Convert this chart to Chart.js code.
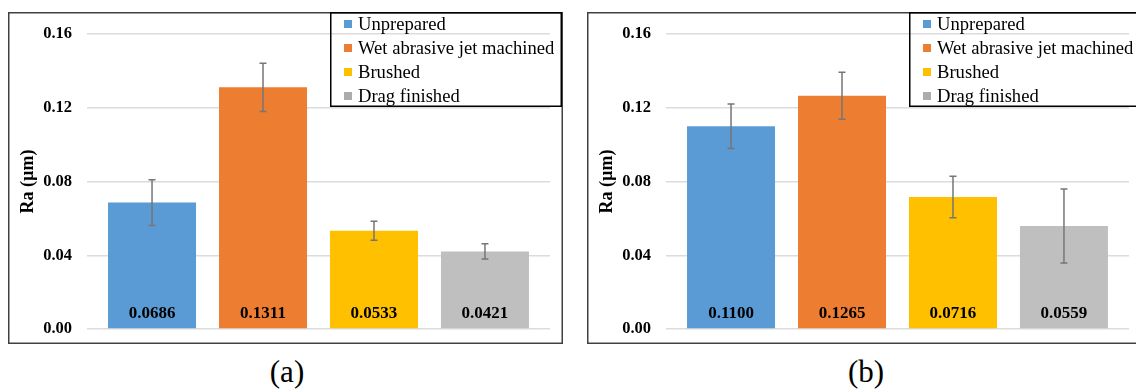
<!DOCTYPE html>
<html>
<head>
<meta charset="utf-8">
<script src="https://cdn.jsdelivr.net/npm/chart.js@4"></script>
<style>
  html, body { margin: 0; padding: 0; background: #fff; }
  body { width: 1136px; height: 390px; position: relative; overflow: hidden; }
  .panel { position: absolute; top: 12px; width: 555px; height: 332px; }
  .cap { position: absolute; top: 353px; width: 120px; margin-left: -60px; text-align: center;
         font: 31px "Liberation Serif", "Times New Roman", serif; color: #000; line-height: 38px; }
</style>
</head>
<body>
<div class="panel" style="left:8px"><canvas id="chart-a" width="555" height="332"></canvas></div>
<div class="panel" style="left:587px"><canvas id="chart-b" width="555" height="332"></canvas></div>
<div class="cap" style="left:287px">(a)</div>
<div class="cap" style="left:866px">(b)</div>
<script>
// ── Data ────────────────────────────────────────────────
const categories = ['Unprepared', 'Wet abrasive jet machined', 'Brushed', 'Drag finished'];
const raA  = [0.0686, 0.1311, 0.0533, 0.0421];
const errA = [0.0124, 0.0131, 0.0052, 0.0042];
const raB  = [0.1100, 0.1265, 0.0716, 0.0559];
const errB = [0.0121, 0.0128, 0.0113, 0.0201];
const yTicks = [0, 0.04, 0.08, 0.12, 0.16];

const barColors    = ['#5b9bd5', '#ed7d31', '#ffc000', '#bfbfbf'];
const swatchColors = ['#5b9bd5', '#ed7d31', '#ffc000', '#aeabab'];
const SERIF = '"Liberation Serif", "Times New Roman", serif';

// Fehlerbalken, Werte im Balken, Legende und Rahmen
const panelDecor = {
  id: 'panelDecor',
  afterDatasetsDraw(chart) {
    const ctx = chart.ctx;
    const y = chart.scales.y;
    const meta = chart.getDatasetMeta(0);
    const errs = chart.config.options.plugins.panelDecor.errors;
    const vals = chart.data.datasets[0].data.map(p => p.y);
    ctx.save();
    ctx.strokeStyle = '#767676';
    ctx.lineWidth = 1.5;
    meta.data.forEach((bar, i) => {
      const top = y.getPixelForValue(vals[i] + errs[i]);
      const bot = y.getPixelForValue(vals[i] - errs[i]);
      ctx.beginPath();
      ctx.moveTo(bar.x, top); ctx.lineTo(bar.x, bot);
      ctx.moveTo(bar.x - 3.5, top); ctx.lineTo(bar.x + 3.5, top);
      ctx.moveTo(bar.x - 3.5, bot); ctx.lineTo(bar.x + 3.5, bot);
      ctx.stroke();
    });
    ctx.fillStyle = '#000';
    ctx.font = 'bold 17px ' + SERIF;
    ctx.textAlign = 'center';
    ctx.textBaseline = 'middle';
    meta.data.forEach((bar, i) => {
      ctx.fillText(vals[i].toFixed(4), bar.x, y.getPixelForValue(0) - 15.5);
    });
    ctx.restore();
  },
  afterDraw(chart) {
    const ctx = chart.ctx;
    const W = chart.width, H = chart.height;
    ctx.save();
    // Rahmen
    ctx.strokeStyle = '#404040';
    ctx.lineWidth = 1.5;
    ctx.strokeRect(0.75, 0.75, W - 1.5, H - 1.5);
    // Legende
    const lx = 322, ly = 0, lw = 232, lh = 95;
    ctx.strokeStyle = '#000';
    ctx.strokeRect(lx + 0.75, ly + 0.75, lw - 1.5, lh - 1.5);
    ctx.font = '18.6px ' + SERIF;
    ctx.textBaseline = 'middle';
    ctx.textAlign = 'left';
    categories.forEach((c, i) => {
      const cy = 12 + i * 24;
      ctx.fillStyle = swatchColors[i];
      ctx.fillRect(lx + 14, cy - 4, 8, 8);
      ctx.fillStyle = '#000';
      ctx.fillText(c, lx + 28, cy + 1);
    });
    ctx.restore();
  }
};

function makeChart(id, values, errors) {
  return new Chart(document.getElementById(id).getContext('2d'), {
    type: 'bar',
    data: {
      datasets: [{
        data: values.map((v, i) => ({ x: i, y: v })),
        backgroundColor: barColors,
        borderWidth: 0,
        categoryPercentage: 1,
        barPercentage: 0.793
      }]
    },
    options: {
      responsive: false,
      animation: false,
      layout: { padding: { top: 22, bottom: 15, left: 0, right: 13 } },
      plugins: {
        legend: { display: false },
        tooltip: { enabled: false },
        panelDecor: { errors }
      },
      scales: {
        x: {
          type: 'linear', min: -0.586, max: 3.586, offset: false, display: false,
          afterBuildTicks: s => { s.ticks = categories.map((c, i) => ({ value: i })); }
        },
        y: {
          min: 0, max: 0.16,
          afterBuildTicks: s => { s.ticks = yTicks.map(v => ({ value: v })); },
          afterFit: s => { s.width = 79; s.paddingTop = 0; s.paddingBottom = 0; },
          ticks: {
            padding: 15, color: '#000',
            font: { family: SERIF, size: 16.5, weight: 'bold' },
            callback: v => v.toFixed(2)
          },
          grid: { color: '#dcdcdc', lineWidth: 1.5, drawTicks: false },
          border: { display: false },
          title: {
            display: true, text: 'Ra (µm)', color: '#000',
            font: { family: SERIF, size: 18, weight: 'bold' },
            padding: { top: 10, bottom: 0 }
          }
        }
      }
    },
    plugins: [panelDecor]
  });
}

makeChart('chart-a', raA, errA);
makeChart('chart-b', raB, errB);
</script>
</body>
</html>
